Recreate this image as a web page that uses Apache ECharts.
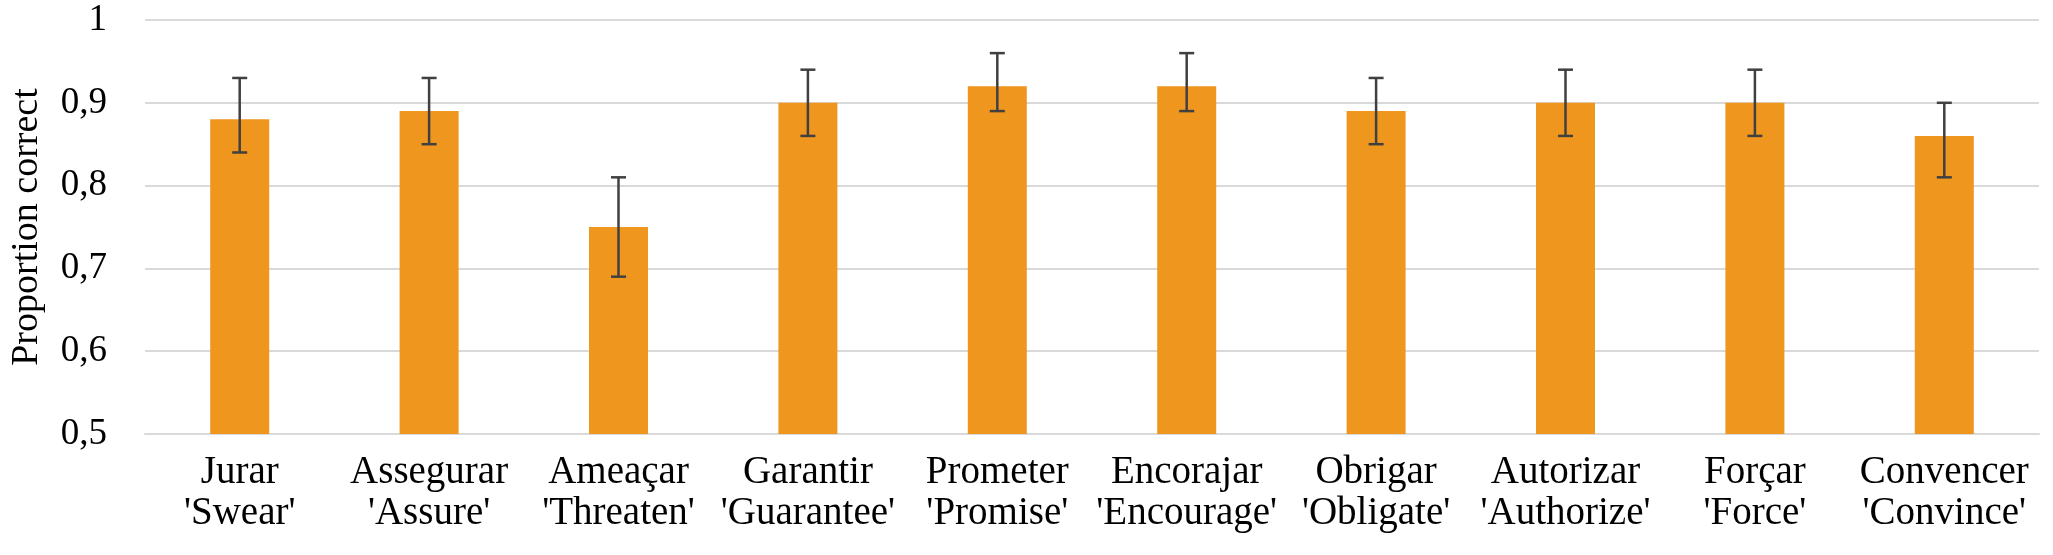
<!DOCTYPE html>
<html>
<head>
<meta charset="utf-8">
<script src="https://cdn.jsdelivr.net/npm/echarts@6/dist/echarts.min.js"></script>
<style>
html,body{margin:0;padding:0;background:#fff;}
#chart{width:2053px;height:555px;}
</style>
</head>
<body>
<div id="chart"></div>
<script>
const categories = ["Jurar\n'Swear'", "Assegurar\n'Assure'", "Ameaçar\n'Threaten'", "Garantir\n'Guarantee'", "Prometer\n'Promise'", "Encorajar\n'Encourage'", "Obrigar\n'Obligate'", "Autorizar\n'Authorize'", "Forçar\n'Force'", "Convencer\n'Convince'"];
const values = [0.88, 0.89, 0.75, 0.90, 0.92, 0.92, 0.89, 0.90, 0.90, 0.86];
const errLow = [0.84, 0.85, 0.69, 0.86, 0.89, 0.89, 0.85, 0.86, 0.86, 0.81];
const errHigh = [0.93, 0.93, 0.81, 0.94, 0.96, 0.96, 0.93, 0.94, 0.94, 0.90];
const yTicks = { min: 0.5, max: 1, interval: 0.1 };
const yAxisName = 'Proportion correct';

const errData = categories.map((c, i) => [i, errLow[i], errHigh[i]]);
const chart = echarts.init(document.getElementById('chart'));
const font = 'Liberation Serif, Times New Roman, serif';
chart.setOption({
  animation: false,
  backgroundColor: '#fff',
  grid: { left: 138, right: 14, top: 20, bottom: 121, containLabel: false },
  xAxis: {
    type: 'category',
    data: categories,
    axisLine: { show: true, lineStyle: { color: '#d9d9d9', width: 2 } },
    axisTick: { show: false },
    axisLabel: { color: '#000', fontFamily: font, fontSize: 39, lineHeight: 41, margin: 18, interval: 0 }
  },
  yAxis: {
    type: 'value',
    min: yTicks.min, max: yTicks.max, interval: yTicks.interval,
    name: yAxisName,
    nameLocation: 'middle',
    nameGap: 99,
    nameTextStyle: { color: '#000', fontFamily: font, fontSize: 38 },
    axisLine: { show: false },
    axisTick: { show: false },
    splitLine: { lineStyle: { color: '#d9d9d9', width: 2 } },
    axisLabel: {
      color: '#000', fontFamily: font, fontSize: 37, margin: 38,
      formatter: v => (Math.round(v * 10) / 10).toString().replace('.', ',')
    }
  },
  series: [
    {
      type: 'bar',
      data: values,
      barWidth: 59,
      itemStyle: { color: '#EF961F' }
    },
    {
      type: 'custom',
      data: errData,
      z: 10,
      renderItem: function (params, api) {
        const x = api.value(0);
        const lo = api.coord([x, api.value(1)]);
        const hi = api.coord([x, api.value(2)]);
        const hw = 7.5;
        const style = { stroke: '#404040', lineWidth: 2.5 };
        return {
          type: 'group',
          children: [
            { type: 'line', shape: { x1: hi[0], y1: hi[1], x2: lo[0], y2: lo[1] }, style: style },
            { type: 'line', shape: { x1: hi[0] - hw, y1: hi[1], x2: hi[0] + hw, y2: hi[1] }, style: style },
            { type: 'line', shape: { x1: lo[0] - hw, y1: lo[1], x2: lo[0] + hw, y2: lo[1] }, style: style }
          ]
        };
      }
    }
  ]
});
</script>
</body>
</html>
